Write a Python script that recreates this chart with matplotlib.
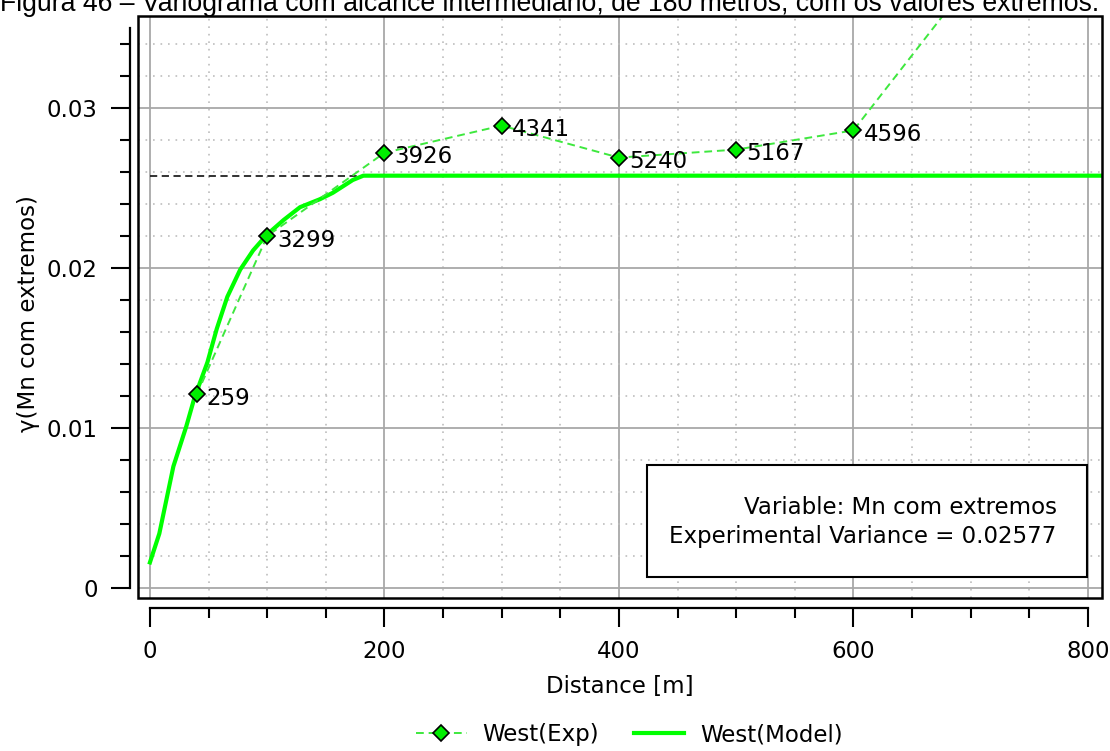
import matplotlib.pyplot as plt
from matplotlib.lines import Line2D
from matplotlib.patches import Rectangle
from matplotlib.ticker import MultipleLocator

# experimental variogram (lag, gamma, number of pairs)
lags = [40, 100, 200, 300, 400, 500, 600, 700]
gamma_exp = [0.0121, 0.0220, 0.0272, 0.0289, 0.0269, 0.0274, 0.0286, 0.0380]
pairs = [259, 3299, 3926, 4341, 5240, 5167, 4596]

# fitted model
model_x = [0, 8, 20, 31, 38, 49, 57, 66, 77, 88, 100, 114, 128, 145, 156, 173, 182, 812]
model_y = [0.0016, 0.0034, 0.0076, 0.0101, 0.0119, 0.0141, 0.0162, 0.0182, 0.0199,
           0.0211, 0.0221, 0.0230, 0.0238, 0.0243, 0.0247, 0.0255, 0.02577, 0.02577]

variance = 0.02577
title = "Figura 46 – Variograma com alcance intermediário, de 180 metros, com os valores extremos."

plt.rcParams['font.family'] = 'DejaVu Sans'
fs = 16.5

fig = plt.figure(figsize=(11.10, 7.51), dpi=100)
ax = fig.add_axes([0.1243, 0.2037, 0.9928 - 0.1243, 0.9787 - 0.2037])

exp_green = '#3ee83e'
model_green = '#00ff00'

# sill line behind the model
ax.hlines(variance, 0, 812, colors='#222222', linestyles=(0, (4, 2.5)), lw=1.3, zorder=2)
ax.plot(model_x, model_y, color=model_green, lw=3, zorder=3)
ax.plot(lags, gamma_exp, color=exp_green, lw=1.4, ls=(0, (4, 2.5)), zorder=4)
ax.plot(lags, gamma_exp, ls='none', marker='D', ms=8, mfc='#00ee00', mec='black', mew=1.2, zorder=5)

for x, y, n in zip(lags, gamma_exp, pairs):
    ax.annotate(str(n), (x, y), xytext=(10, -4), textcoords='offset pixels',
                ha='left', va='center', fontsize=fs, zorder=6)

ax.set_xlim(-10.2, 812)
ax.set_ylim(-0.000625, 0.03575)

ax.xaxis.set_major_locator(MultipleLocator(200))
ax.xaxis.set_minor_locator(MultipleLocator(50))
ax.yaxis.set_major_locator(MultipleLocator(0.01))
ax.yaxis.set_minor_locator(MultipleLocator(0.002))
ax.set_yticks([0, 0.01, 0.02, 0.03])
ax.set_yticklabels(['0', '0.01', '0.02', '0.03'])

ax.grid(which='major', color='#a8a8a8', lw=1.3, zorder=0)
ax.grid(which='minor', color='#bdbdbd', lw=1.2, ls=(0, (1, 3.5)), zorder=0)
ax.set_axisbelow(True)

for s in ['top', 'right']:
    ax.spines[s].set_visible(False)
ax.spines['left'].set_position(('outward', 6))
ax.spines['bottom'].set_position(('outward', 7.2))
ax.spines['left'].set_bounds(0, 0.035)
ax.spines['bottom'].set_bounds(0, 800)
for s in ['left', 'bottom']:
    ax.spines[s].set_linewidth(1.6)
ax.tick_params(which='major', length=14, width=1.5, labelsize=fs, pad=9)
ax.tick_params(which='minor', length=7, width=1.5)

# plot frame
ax.add_patch(Rectangle((0, 0), 1, 1, transform=ax.transAxes, fill=False,
                       ec='black', lw=1.8, clip_on=False, zorder=10))

ax.set_xlabel('Distance [m]', fontsize=fs)
ax.xaxis.set_label_coords(0.5, -0.132)
ax.set_ylabel('γ(Mn com extremos)', fontsize=fs)
ax.yaxis.set_label_coords(-0.102, 0.488)

# info box
ax.add_patch(Rectangle((0.528, 0.036), 0.456, 0.1925, transform=ax.transAxes,
                       fc='white', ec='black', lw=1.5, zorder=7))
ax.text(0.953, 0.156, 'Variable: Mn com extremos', transform=ax.transAxes,
        ha='right', va='center', fontsize=fs, zorder=8)
ax.text(0.953, 0.105, 'Experimental Variance = %.5f' % variance, transform=ax.transAxes,
        ha='right', va='center', fontsize=fs, zorder=8)

handles = [
    Line2D([], [], color=exp_green, lw=1.4, ls=(0, (4, 2.5)), marker='D', ms=8,
           mfc='#00ee00', mec='black', mew=1.2),
    Line2D([], [], color=model_green, lw=3),
]
fig.legend(handles, ['West(Exp)', 'West(Model)'], loc='center', ncol=2,
           bbox_to_anchor=(0.567, 1 - 735 / 751), frameon=False, fontsize=fs,
           handlelength=2.2, handletextpad=0.7, columnspacing=1.5)

fig.text(0.0, 1 - 11 / 751, title, fontsize=19.2, family='Liberation Sans',
         ha='left', va='baseline')

fig.savefig('out.png', dpi=100)
